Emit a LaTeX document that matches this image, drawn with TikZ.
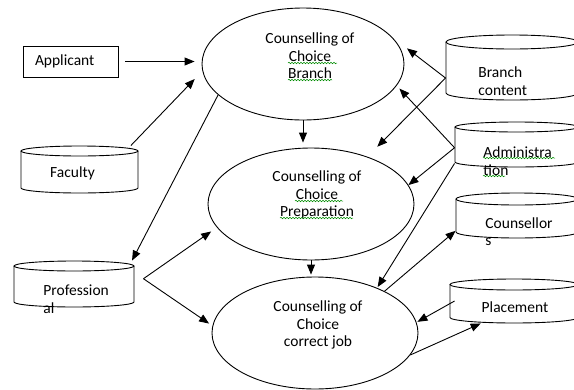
\documentclass[tikz,border=0pt]{standalone}
\usepackage{fontspec}
\setmainfont{Carlito}
\usetikzlibrary{shapes.geometric, arrows.meta, decorations.pathmorphing}

\tikzset{
    proc/.style={ellipse, draw, inner sep=0pt, minimum width=206pt, minimum height=112pt},
    txt/.style={font=\fontsize{15.5}{17.5}\selectfont, inner sep=0pt, align=center},
    spell/.style={draw=green!55!black, line width=0.5pt, decorate,
        decoration={snake, amplitude=0.8pt, segment length=3pt}}
}

% data store drum: name, left, top, right, bottom, cap radius
\newcommand{\drum}[6]{%
    \node[inner sep=0pt, minimum width={(#4-#2)*1pt}, minimum height={(#5-#3)*1pt}] (#1) at ({(#2+#4)/2},{(#3+#5)/2}) {};
    \draw ({(#2+#4)/2},{#3+#6}) ellipse [x radius={(#4-#2)/2}, y radius=#6];
    \draw (#2,{#3+#6}) -- (#2,{#5-#6}) arc[start angle=180, end angle=0, x radius={(#4-#2)/2}, y radius=#6] -- (#4,{#3+#6});
}

\begin{document}
\begin{tikzpicture}[x=1pt, y=-1pt, line width=0.9pt, >={Triangle[length=10pt, width=8pt]}]
    \useasboundingbox (0,0) rectangle (574,389);

    % counselling steps
    \node[proc, minimum width=202pt] (e1) at (303,64) {};
    \node[proc] (e2) at (311,204) {};
    \node[proc] (e3) at (315,333) {};
    \node[txt] (e1t) at (310,56) {Counselling of\\Choice\\Branch};
    \node[txt] (e2t) at (317,195) {Counselling of\\Choice\\Preparation};
    \node[txt] (e3t) at (318,325) {Counselling of\\Choice\\correct job};

    % applicant and stores
    \node[draw, txt, align=left, text width=71pt, inner xsep=12pt, minimum height=31pt] (app) at (70.5,61.5) {Applicant};
    \drum{fac}{21}{146}{138}{193}{5}
    \drum{pro}{14}{261}{134}{307}{5}
    \drum{bc}{446}{35}{578}{100}{7}
    \drum{adm}{455}{122}{578}{167}{5}
    \drum{cou}{456}{193}{578}{238}{6}
    \drum{pla}{450}{279}{578}{323}{5.5}

    \node[txt] (fact) at (72.5,173) {Faculty};
    \node[txt, align=left, anchor=west] (prot) at (43,299) {Profession\\al};
    \node[txt, align=left, anchor=west] (bct) at (478,81) {Branch\\content};
    \node[txt, align=left, anchor=west] (admt) at (483,161) {Administra\\tion};
    \node[txt, align=left, anchor=west] (cout) at (485,231.5) {Counsellor\\s};
    \node[txt] (plat) at (515,307) {Placement};

    % spelling marks
    \draw[spell] (288,63) -- (337,63);
    \draw[spell] (288,80) -- (332,80);
    \draw[spell] (295,201) -- (343,201);
    \draw[spell] (280,218) -- (353,218);
    \draw[spell] (483,158) -- (555,158);
    \draw[spell] (483,176) -- (505,176);

    % flows
    \draw[->, shorten <=7pt, shorten >=7pt] (app.east) -- (app.east -| e1.west);
    \draw[->, shorten >=11pt] (fac.25) -- (e1.184);
    \draw[->] (e1.200) -- (pro.22);
    \draw[->, shorten >=7pt] ([xshift=9pt]pro.5) -- (e2.194);
    \draw[->, shorten >=4pt] ([xshift=9pt]pro.5) -- (e3.176);
    \draw[->, shorten >=5pt] (e1.south) -- (e1.south |- e2.north);
    \draw[->, shorten >=2pt] (e2.south) -- (e2.south |- e3.north);
    \draw[->, shorten >=19pt] (bc.189) -- (e1.17);
    \draw[->, shorten >=14pt] (bc.189) -- (e2.40);
    \draw[->, shorten >=4pt] (adm.183) -- (e1.347);
    \draw[->] (adm.183) -- (e2.11);
    \draw[->, shorten >=1pt] (adm.197) -- (e3.36);
    \draw[->] (e3.31) -- (cou.194);
    \draw[->, shorten >=1pt] ([xshift=5pt]pla.west) -- (e3.6);
    \draw[->] (e3.347) -- (pla.214);
\end{tikzpicture}
\end{document}
